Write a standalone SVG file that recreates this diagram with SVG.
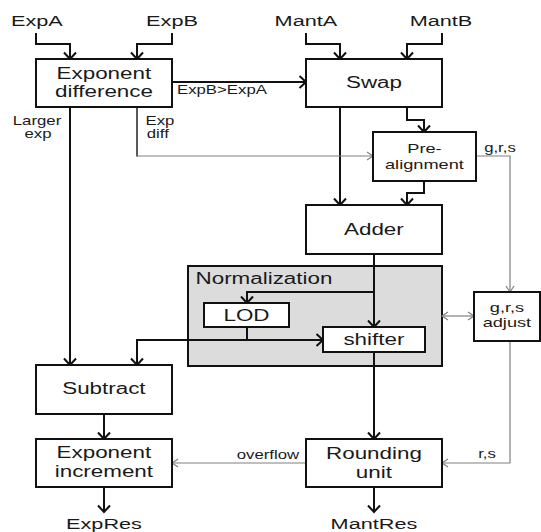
<svg xmlns="http://www.w3.org/2000/svg" width="541" height="532" viewBox="0 0 541 532">
<defs>
<style>
text{font-family:"Liberation Sans",Arial,sans-serif;fill:#1a1a1a;text-anchor:middle;transform-box:fill-box;transform-origin:center;transform:scaleX(1.4)}
.io{font-size:15.5px}
.bx{font-size:16px}
.sm{font-size:13px}
.lb{font-size:12px}
.box{fill:#fff;stroke:#111;stroke-width:2}
.blk{fill:none;stroke:#111;stroke-width:2}
.dk{fill:none;stroke:#222;stroke-width:1.5}
.gry{fill:none;stroke:#808080;stroke-width:1.2}
</style>
<marker id="ab" markerUnits="userSpaceOnUse" viewBox="-10 -8 12 16" markerWidth="12" markerHeight="16" refX="0" refY="0" orient="auto" overflow="visible">
<path d="M-6.5,-6 L0,0 L-6.5,6" fill="none" stroke="#111" stroke-width="2"/>
</marker>
<marker id="ag" markerUnits="userSpaceOnUse" viewBox="-8 -6 10 12" markerWidth="10" markerHeight="12" refX="0" refY="0" orient="auto-start-reverse" overflow="visible">
<path d="M-6,-4 L0,0 L-6,4" fill="none" stroke="#808080" stroke-width="1.2"/>
</marker>
</defs>
<rect width="541" height="532" fill="#fff"/>

<g id="normalization">
<rect x="188" y="266" width="254" height="100" fill="#dcdcdc" stroke="#111" stroke-width="2"/>
<text class="bx" x="264" y="284">Normalization</text>
</g>

<g id="connectors">
<path class="blk" d="M36,33 V44 H70 V59" marker-end="url(#ab)"/>
<path class="blk" d="M172,33 V44 H137 V59" marker-end="url(#ab)"/>
<path class="blk" d="M306,33 V44 H340 V59" marker-end="url(#ab)"/>
<path class="blk" d="M442,33 V44 H407 V59" marker-end="url(#ab)"/>
<path class="blk" d="M172,82 H306" marker-end="url(#ab)"/>
<path class="blk" d="M70,107 V365" marker-end="url(#ab)"/>
<path class="blk" d="M340,107 V205" marker-end="url(#ab)"/>
<path class="blk" d="M407,107 V120 H424 V132" marker-end="url(#ab)"/>
<path class="blk" d="M424,181 V193 H407 V205" marker-end="url(#ab)"/>
<path class="blk" d="M374,254 V327" marker-end="url(#ab)"/>
<path class="blk" d="M374,292 H247 V303" marker-end="url(#ab)"/>
<path class="blk" d="M247,327 V340 H323" marker-end="url(#ab)"/>
<path class="blk" d="M247,340 H137 V365" marker-end="url(#ab)"/>
<path class="blk" d="M104,414 V439" marker-end="url(#ab)"/>
<path class="blk" d="M104,487 V512" marker-end="url(#ab)"/>
<path class="blk" d="M374,352 V439" marker-end="url(#ab)"/>
<path class="blk" d="M374,487 V512" marker-end="url(#ab)"/>
<path class="dk" d="M137,107 V156.5"/>
<path class="gry" d="M137,156 H373" marker-end="url(#ag)"/>
<path class="gry" d="M476,156 H510 V292" marker-end="url(#ag)"/>
<path class="gry" d="M442,316 H474" marker-start="url(#ag)" marker-end="url(#ag)"/>
<path class="gry" d="M510,341 V463 H442" marker-end="url(#ag)"/>
<path class="gry" d="M306,463 H172" marker-end="url(#ag)"/>
<text class="lb" x="222" y="94">ExpB&gt;ExpA</text>
<text class="lb" x="37" y="125">Larger</text>
<text class="lb" x="38" y="138">exp</text>
<text class="lb" x="160" y="125">Exp</text>
<text class="lb" x="158" y="138">diff</text>
<text class="lb" x="500" y="152">g,r,s</text>
<text class="lb" x="268" y="459">overflow</text>
<text class="lb" x="487" y="458">r,s</text>
</g>

<g id="inputs">
<text class="io" x="37" y="26">ExpA</text>
<text class="io" x="172" y="26">ExpB</text>
<text class="io" x="306" y="26">MantA</text>
<text class="io" x="441" y="26">MantB</text>
</g>
<g id="outputs">
<text class="io" x="104" y="529">ExpRes</text>
<text class="io" x="374" y="529">MantRes</text>
</g>

<g id="exp-diff">
<rect class="box" x="36" y="59" width="136" height="48"/>
<text class="bx" x="104" y="79">Exponent</text>
<text class="bx" x="104" y="97">difference</text>
</g>
<g id="swap">
<rect class="box" x="306" y="59" width="136" height="48"/>
<text class="bx" x="374" y="88">Swap</text>
</g>
<g id="pre-alignment">
<rect class="box" x="373" y="132" width="103" height="49"/>
<text class="sm" x="424.5" y="153">Pre-</text>
<text class="sm" x="424.5" y="169">alignment</text>
</g>
<g id="adder">
<rect class="box" x="306" y="205" width="136" height="49"/>
<text class="bx" x="374" y="235">Adder</text>
</g>
<g id="lod">
<rect class="box" x="204" y="303" width="85" height="24"/>
<text class="bx" x="246.5" y="321">LOD</text>
</g>
<g id="shifter">
<rect class="box" x="323" y="327" width="102" height="25"/>
<text class="bx" x="374" y="345">shifter</text>
</g>
<g id="grs-adjust">
<rect class="box" x="474" y="292" width="66" height="49"/>
<text class="sm" x="507" y="312">g,r,s</text>
<text class="sm" x="507" y="327">adjust</text>
</g>
<g id="subtract">
<rect class="box" x="36" y="365" width="136" height="49"/>
<text class="bx" x="104" y="394">Subtract</text>
</g>
<g id="exp-increment">
<rect class="box" x="36" y="439" width="136" height="48"/>
<text class="bx" x="104" y="458">Exponent</text>
<text class="bx" x="104" y="477">increment</text>
</g>
<g id="rounding">
<rect class="box" x="306" y="439" width="136" height="48"/>
<text class="bx" x="374" y="459">Rounding</text>
<text class="bx" x="374" y="478">unit</text>
</g>
</svg>
